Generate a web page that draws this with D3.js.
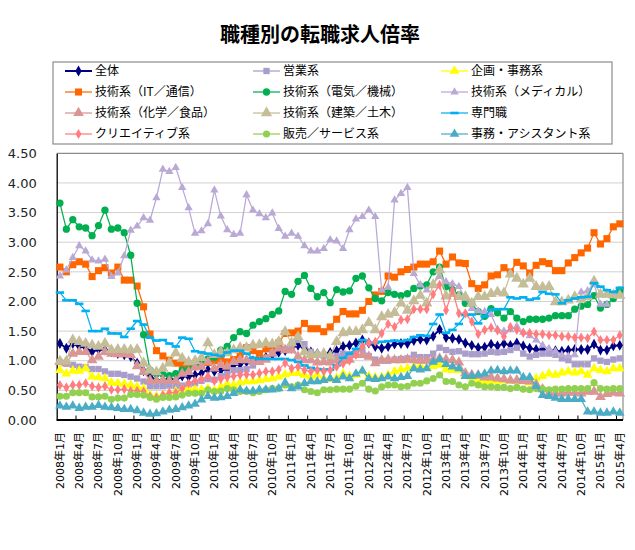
<!DOCTYPE html>
<html><head><meta charset="utf-8">
<script src="https://cdn.jsdelivr.net/npm/d3@7"></script>
<style>
body{margin:0;background:#fff;}
svg{display:block;}
</style></head>
<body>
<svg id="chart" width="635" height="550"></svg>
<script>
const categories = ["2008年1月","2008年2月","2008年3月","2008年4月","2008年5月","2008年6月","2008年7月","2008年8月","2008年9月","2008年10月","2008年11月","2008年12月",
"2009年1月","2009年2月","2009年3月","2009年4月","2009年5月","2009年6月","2009年7月","2009年8月","2009年9月","2009年10月","2009年11月","2009年12月",
"2010年1月","2010年2月","2010年3月","2010年4月","2010年5月","2010年6月","2010年7月","2010年8月","2010年9月","2010年10月","2010年11月","2010年12月",
"2011年1月","2011年2月","2011年3月","2011年4月","2011年5月","2011年6月","2011年7月","2011年8月","2011年9月","2011年10月","2011年11月","2011年12月",
"2012年1月","2012年2月","2012年3月","2012年4月","2012年5月","2012年6月","2012年7月","2012年8月","2012年9月","2012年10月","2012年11月","2012年12月",
"2013年1月","2013年2月","2013年3月","2013年4月","2013年5月","2013年6月","2013年7月","2013年8月","2013年9月","2013年10月","2013年11月","2013年12月",
"2014年1月","2014年2月","2014年3月","2014年4月","2014年5月","2014年6月","2014年7月","2014年8月","2014年9月","2014年10月","2014年11月","2014年12月",
"2015年1月","2015年2月","2015年3月","2015年4月"];

const tickLabels = ["2008年1月","2008年4月","2008年7月","2008年10月","2009年1月","2009年4月","2009年7月","2009年10月",
"2010年1月","2010年4月","2010年7月","2010年10月","2011年1月","2011年4月","2011年7月","2011年10月",
"2012年1月","2012年4月","2012年7月","2012年10月","2013年1月","2013年4月","2013年7月","2013年10月",
"2014年1月","2014年4月","2014年7月","2014年10月","2015年1月","2015年4月"];

const yTicks = [0,0.5,1,1.5,2,2.5,3,3.5,4,4.5];

const zentai = [1.29,1.21,1.29,1.24,1.22,1.15,1.19,1.18,1.15,1.12,1.10,1.07,0.96,0.83,0.74,0.67,0.67,0.70,0.67,0.74,0.73,0.76,
0.79,0.85,0.82,0.84,0.85,0.93,0.94,0.98,1.00,1.02,1.06,1.10,1.14,1.17,1.21,1.26,1.21,1.15,1.12,1.10,1.14,1.17,
1.24,1.26,1.30,1.35,1.30,1.24,1.21,1.24,1.28,1.29,1.29,1.34,1.36,1.35,1.41,1.53,1.39,1.38,1.36,1.30,1.26,1.22,
1.23,1.28,1.25,1.29,1.26,1.30,1.25,1.21,1.19,1.19,1.18,1.17,1.16,1.18,1.19,1.19,1.19,1.28,1.18,1.18,1.25,1.26];

const eigyo = [0.98,0.95,0.93,0.90,0.89,0.86,0.86,0.82,0.78,0.78,0.76,0.73,0.70,0.65,0.57,0.57,0.57,0.58,0.57,0.58,0.60,0.62,
0.66,0.69,0.68,0.74,0.78,0.84,0.84,0.86,0.92,0.98,1.05,1.15,1.25,1.20,1.22,1.35,1.28,1.15,1.10,1.08,1.05,1.08,
1.12,1.11,1.15,1.19,1.08,1.02,1.00,1.00,1.02,1.03,1.04,1.10,1.06,1.06,1.12,1.22,1.18,1.15,1.16,1.12,1.11,1.11,
1.12,1.15,1.14,1.15,1.18,1.22,1.12,1.07,1.10,1.12,1.12,1.10,1.04,1.01,0.94,0.94,0.94,1.04,1.00,0.98,1.02,1.04];

const kikaku = [0.84,0.78,0.83,0.83,0.87,0.73,0.72,0.70,0.63,0.62,0.61,0.59,0.56,0.53,0.42,0.40,0.42,0.45,0.48,0.52,0.52,0.52,
0.51,0.53,0.50,0.56,0.61,0.59,0.63,0.65,0.65,0.67,0.69,0.70,0.73,0.77,0.79,0.79,0.76,0.73,0.76,0.70,0.69,0.71,
0.78,0.74,0.76,0.82,0.74,0.72,0.72,0.76,0.82,0.85,0.87,0.90,0.91,0.88,0.91,0.93,0.85,0.84,0.84,0.76,0.72,0.66,
0.65,0.66,0.66,0.67,0.66,0.66,0.65,0.63,0.70,0.74,0.78,0.76,0.80,0.82,0.80,0.82,0.76,0.87,0.84,0.82,0.87,0.87];

const itTsushin = [2.58,2.50,2.62,2.67,2.63,2.42,2.52,2.57,2.48,2.58,2.36,2.36,2.26,1.91,1.45,1.17,1.08,1.01,0.96,0.94,0.94,0.90,
0.92,0.97,1.00,1.03,0.98,1.02,1.10,1.22,1.17,1.12,1.20,1.25,1.30,1.46,1.47,1.50,1.63,1.54,1.54,1.49,1.57,1.70,
1.83,1.79,1.79,1.85,2.00,2.11,2.17,2.43,2.41,2.50,2.54,2.58,2.63,2.63,2.67,2.85,2.63,2.75,2.65,2.64,2.30,2.22,
2.28,2.43,2.45,2.57,2.50,2.66,2.60,2.48,2.61,2.67,2.64,2.52,2.52,2.65,2.74,2.82,2.90,3.16,2.97,3.06,3.26,3.31];

const denki = [3.66,3.22,3.38,3.26,3.24,3.11,3.28,3.54,3.22,3.24,3.16,2.78,1.97,1.44,0.84,0.78,0.77,0.75,0.78,0.84,0.85,0.95,
0.98,1.03,1.06,1.18,1.24,1.39,1.49,1.46,1.60,1.66,1.71,1.78,1.84,2.17,2.12,2.34,2.44,2.22,2.08,2.15,1.98,2.20,
2.16,2.18,2.39,2.43,2.23,2.05,2.01,2.15,2.12,2.10,2.13,2.22,2.26,2.28,2.50,2.58,2.25,2.20,2.11,1.97,1.96,1.83,
1.75,1.88,1.81,1.72,1.83,1.72,1.66,1.70,1.70,1.70,1.72,1.76,1.76,1.76,1.87,1.92,1.95,2.10,1.89,1.95,2.05,2.19];

const medical = [2.43,2.53,2.74,2.94,2.85,2.70,2.68,2.71,2.42,2.48,2.77,3.20,3.27,3.41,3.37,3.75,4.23,4.19,4.26,3.92,3.58,3.15,
3.19,3.31,3.88,3.44,3.21,3.13,3.15,3.80,3.54,3.48,3.41,3.49,3.23,3.10,3.15,3.10,2.94,2.85,2.85,2.89,3.04,3.02,
2.89,3.21,3.39,3.43,3.54,3.43,2.19,2.24,3.71,3.82,3.92,2.47,2.28,2.19,2.30,2.42,2.33,2.30,2.25,2.05,1.88,1.84,
1.83,1.78,1.53,1.50,1.52,1.58,1.48,1.42,1.35,1.26,1.20,1.16,1.10,1.08,1.10,2.16,2.18,2.29,1.95,1.95,null,null];

const kagaku = [0.98,0.96,1.12,1.15,1.15,1.01,1.07,1.15,1.12,1.11,1.11,1.10,0.91,0.81,0.67,0.66,0.67,0.66,0.66,0.78,0.81,0.89,
0.90,0.98,0.87,0.93,0.90,0.98,1.01,1.01,0.98,0.98,1.02,1.12,1.21,1.18,1.18,1.07,1.01,1.01,0.97,0.98,0.97,1.01,
1.00,1.02,1.10,1.10,1.07,0.96,1.01,1.02,1.01,1.01,1.02,1.01,1.00,1.00,1.02,1.04,1.02,1.01,0.97,0.79,0.76,0.75,
0.72,0.72,0.70,0.69,0.67,0.67,0.66,0.65,0.60,0.52,0.45,0.45,0.45,0.46,0.46,0.45,0.48,0.48,0.39,0.44,0.46,0.45];

const kenchiku = [0.99,0.99,1.35,1.32,1.29,1.26,1.24,1.29,1.18,1.19,1.19,1.18,1.19,0.96,0.84,0.81,0.87,0.96,1.13,1.04,0.98,1.00,
1.05,1.30,1.10,1.15,1.13,1.18,1.22,1.22,1.26,1.27,1.30,1.28,1.32,1.49,1.30,1.40,1.15,1.10,1.10,1.12,1.08,1.32,
1.47,1.49,1.49,1.52,1.64,1.52,1.74,1.78,1.81,1.97,1.85,2.01,2.10,1.97,2.28,2.53,2.09,2.13,2.08,2.08,1.97,2.08,
2.08,2.13,2.16,2.14,2.46,2.39,2.29,2.39,2.25,2.24,2.25,1.99,1.99,2.02,2.08,2.04,2.08,2.34,2.12,2.12,2.11,2.10];

const senmon = [2.15,2.02,2.02,1.96,1.84,1.50,1.50,1.54,1.46,1.46,1.40,1.54,1.67,1.61,1.39,1.34,1.35,1.29,1.24,1.39,1.37,1.16,
1.14,1.12,1.10,1.08,1.14,1.17,1.17,1.12,1.05,1.03,1.03,1.03,1.03,1.03,1.01,0.98,0.92,0.88,0.86,0.85,0.85,0.92,
1.05,1.12,1.20,1.35,1.30,1.30,1.32,1.33,1.34,1.33,1.35,1.40,1.43,1.42,1.62,1.78,1.47,1.52,1.62,1.77,1.78,1.63,
1.75,1.86,1.87,1.87,2.07,2.05,2.07,2.03,2.05,2.16,2.13,2.12,1.97,2.02,2.05,2.07,2.08,2.31,2.25,2.19,2.16,2.23];

const creative = [0.59,0.55,0.59,0.59,0.62,0.57,0.55,0.57,0.51,0.51,0.52,0.49,0.49,0.48,0.40,0.38,0.42,0.46,0.46,0.53,0.62,0.66,
0.69,0.74,0.66,0.69,0.72,0.74,0.76,0.77,0.76,0.79,0.82,0.82,0.85,0.96,0.87,0.90,0.84,0.82,0.84,0.82,0.84,0.90,
0.95,1.00,1.10,1.25,1.30,1.32,1.46,1.62,1.57,1.69,1.70,1.87,1.87,1.87,2.12,2.28,1.85,2.19,1.80,1.80,1.66,1.45,
1.52,1.56,1.51,1.41,1.57,1.52,1.47,1.47,1.45,1.45,1.43,1.43,1.41,1.41,1.39,1.39,1.38,1.49,1.35,1.35,1.35,1.43];

const hanbai = [0.40,0.40,0.46,0.46,0.46,0.39,0.39,0.40,0.35,0.37,0.37,0.43,0.43,0.42,0.38,0.35,0.38,0.38,0.39,0.42,0.45,0.45,
0.45,0.51,0.48,0.49,0.53,0.51,0.48,0.48,0.46,0.48,0.51,0.53,0.53,0.59,0.56,0.59,0.51,0.48,0.46,0.51,0.51,0.52,
0.52,0.52,0.57,0.62,0.52,0.49,0.56,0.59,0.59,0.56,0.57,0.62,0.62,0.66,0.70,0.76,0.65,0.65,0.59,0.56,0.62,0.59,
0.56,0.56,0.55,0.55,0.53,0.55,0.52,0.51,0.53,0.52,0.51,0.52,0.52,0.53,0.53,0.53,0.53,0.63,0.53,0.52,0.53,0.53];

const jimu = [0.24,0.22,0.24,0.20,0.22,0.22,0.25,0.22,0.21,0.20,0.18,0.18,0.16,0.12,0.10,0.11,0.14,0.17,0.18,0.21,0.24,0.27,
0.34,0.40,0.37,0.38,0.40,0.45,0.51,0.49,0.49,0.51,0.51,0.51,0.53,0.63,0.53,0.56,0.62,0.65,0.65,0.67,0.70,0.67,
0.73,0.70,0.78,0.83,0.70,0.69,0.70,0.73,0.70,0.72,0.74,0.87,0.85,0.87,0.98,1.02,0.94,0.90,0.87,0.74,0.74,0.76,
0.78,0.83,0.84,0.82,0.83,0.83,0.72,0.72,0.57,0.42,0.40,0.37,0.35,0.35,0.35,0.35,0.14,0.14,0.12,0.12,0.14,0.12];

const seriesNames = ["全体","営業系","企画・事務系","技術系（IT／通信）","技術系（電気／機械）","技術系（メディカル）",
"技術系（化学／食品）","技術系（建築／土木）","専門職","クリエイティブ系","販売／サービス系","事務・アシスタント系"];
const seriesValues = [zentai,eigyo,kikaku,itTsushin,denki,medical,kagaku,kenchiku,senmon,creative,hanbai,jimu];

// styles (not data)
const styles = [
  {color:"#000080", marker:"diamond", size:34, lw:2},
  {color:"#a99dcb", marker:"square", size:40, lw:1.25},
  {color:"#ffff00", marker:"triangle", size:42, lw:1.25},
  {color:"#ff6600", marker:"square", size:50, lw:1.25},
  {color:"#00b050", marker:"circle", size:42, lw:1.25},
  {color:"#b9a9d4", marker:"triangle", size:30, lw:1.25},
  {color:"#d99694", marker:"triangle", size:50, lw:1.25},
  {color:"#c4bd97", marker:"triangle", size:56, lw:1.25},
  {color:"#00b0f0", marker:"dash", size:0, lw:1.25},
  {color:"#ff7c80", marker:"diamond", size:30, lw:1.25},
  {color:"#92d050", marker:"circle", size:40, lw:1.25},
  {color:"#4bacc6", marker:"triangle", size:40, lw:1.25}
];

const svg = d3.select("#chart");
const L = 56.7, R = 623, T = 153.3, B = 420;

const x = d3.scaleBand().domain(categories).range([L, R]).padding(0);
const y = d3.scaleLinear().domain([0, 4.5]).range([B, T]);
const cx = c => x(c) + x.bandwidth() / 2;

// title
svg.append("text").attr("x", 320).attr("y", 42).attr("text-anchor", "middle")
  .attr("font-family", "'Noto Sans CJK JP', sans-serif").attr("font-size", 20).attr("font-weight", "bold")
  .attr("fill", "#000").text("職種別の転職求人倍率");

// gridlines
svg.append("g").selectAll("line").data(yTicks.filter(v => v > 0 && v < 4.5)).join("line")
  .attr("x1", L).attr("x2", R).attr("y1", d => y(d)).attr("y2", d => y(d))
  .attr("stroke", "#d0d0d0").attr("stroke-width", 1);

// plot border top/right
svg.append("line").attr("x1", L).attr("x2", R).attr("y1", y(4.5)).attr("y2", y(4.5)).attr("stroke", "#8c8c8c").attr("stroke-width", 1.2);
svg.append("line").attr("x1", R).attr("x2", R).attr("y1", y(4.5)).attr("y2", B).attr("stroke", "#8c8c8c").attr("stroke-width", 1.2);

// y axis
const yAxis = d3.axisLeft(y).tickValues(yTicks).tickFormat(d3.format(".2f")).tickSize(0).tickPadding(20);
const gy = svg.append("g").attr("transform", `translate(${L},0)`).call(yAxis);
gy.select(".domain").attr("stroke", "#000").attr("stroke-width", 1.3);
gy.selectAll("text").attr("font-family", "'DejaVu Sans', sans-serif").attr("font-size", 13).attr("fill", "#222");

// x axis labels
const xAxis = d3.axisBottom(x).tickValues(tickLabels).tickSize(0).tickPadding(0);
const gx = svg.append("g").attr("transform", `translate(0,${B})`).call(xAxis);
gx.select(".domain").remove();
gx.selectAll("text")
  .attr("font-family", "'DejaVu Sans', 'Noto Sans CJK JP', sans-serif").attr("font-size", 11).attr("fill", "#000")
  .attr("text-anchor", "end").attr("transform", "translate(0,12) rotate(-90)")
  .attr("dx", 0).attr("dy", "0.35em").attr("y", 0).attr("x", 0);

// x ticks (inside, every 3 months at boundaries)
const tickCats = categories.filter((c, i) => i > 0 && i % 3 === 0);
svg.append("g").selectAll("line").data(tickCats).join("line")
  .attr("x1", d => x(d)).attr("x2", d => x(d)).attr("y1", B).attr("y2", B - 4.5)
  .attr("stroke", "#000").attr("stroke-width", 1);
svg.append("line").attr("x1", L).attr("x2", R).attr("y1", B).attr("y2", B).attr("stroke", "#000").attr("stroke-width", 2);

function markerPath(type, size) {
  const map = {diamond: d3.symbolDiamond, square: d3.symbolSquare, triangle: d3.symbolTriangle, circle: d3.symbolCircle};
  return d3.symbol().type(map[type]).size(size)();
}

// series
const line = d3.line().defined(d => d.v != null).x(d => cx(d.c)).y(d => y(d.v));
const gSeries = svg.append("g");
seriesValues.forEach((vals, si) => {
  const st = styles[si];
  const pts = categories.map((c, i) => ({c, v: vals[i]}));
  const g = gSeries.append("g");
  g.append("path").datum(pts).attr("d", line).attr("fill", "none")
    .attr("stroke", st.color).attr("stroke-width", st.lw).attr("stroke-linejoin", "round");
  const valid = pts.filter(d => d.v != null);
  if (st.marker === "dash") {
    g.selectAll("rect").data(valid).join("rect")
      .attr("x", d => cx(d.c) - 4.2).attr("y", d => y(d.v) - 1.3).attr("width", 8.4).attr("height", 2.6)
      .attr("fill", st.color);
  } else {
    const p = markerPath(st.marker, st.size);
    g.selectAll("path.m").data(valid).join("path").attr("class", "m")
      .attr("d", p).attr("transform", d => `translate(${cx(d.c)},${y(d.v)})`)
      .attr("fill", st.color);
  }
});

// legend
const lg = svg.append("g");
lg.append("rect").attr("x", 53).attr("y", 62).attr("width", 559).attr("height", 82)
  .attr("fill", "#fff").attr("stroke", "#8c8c8c").attr("stroke-width", 1.2);
const colX = [65, 253, 441];
const rowY = [71, 92, 113, 134];
seriesNames.forEach((name, i) => {
  const st = styles[i];
  const lx = colX[i % 3], ly = rowY[Math.floor(i / 3)];
  const g = lg.append("g");
  g.append("line").attr("x1", lx).attr("x2", lx + 27).attr("y1", ly).attr("y2", ly)
    .attr("stroke", st.color).attr("stroke-width", st.lw);
  if (st.marker === "dash") {
    g.append("rect").attr("x", lx + 13.5 - 4.2).attr("y", ly - 1.3).attr("width", 8.4).attr("height", 2.6).attr("fill", st.color);
  } else {
    g.append("path").attr("d", markerPath(st.marker, st.size)).attr("transform", `translate(${lx + 13.5},${ly})`).attr("fill", st.color);
  }
  g.append("text").attr("x", lx + 30).attr("y", ly).attr("dy", "0.36em")
    .attr("font-family", "'Noto Sans CJK JP', sans-serif").attr("font-size", 12).attr("fill", "#000").text(name);
});
</script>
</body></html>
